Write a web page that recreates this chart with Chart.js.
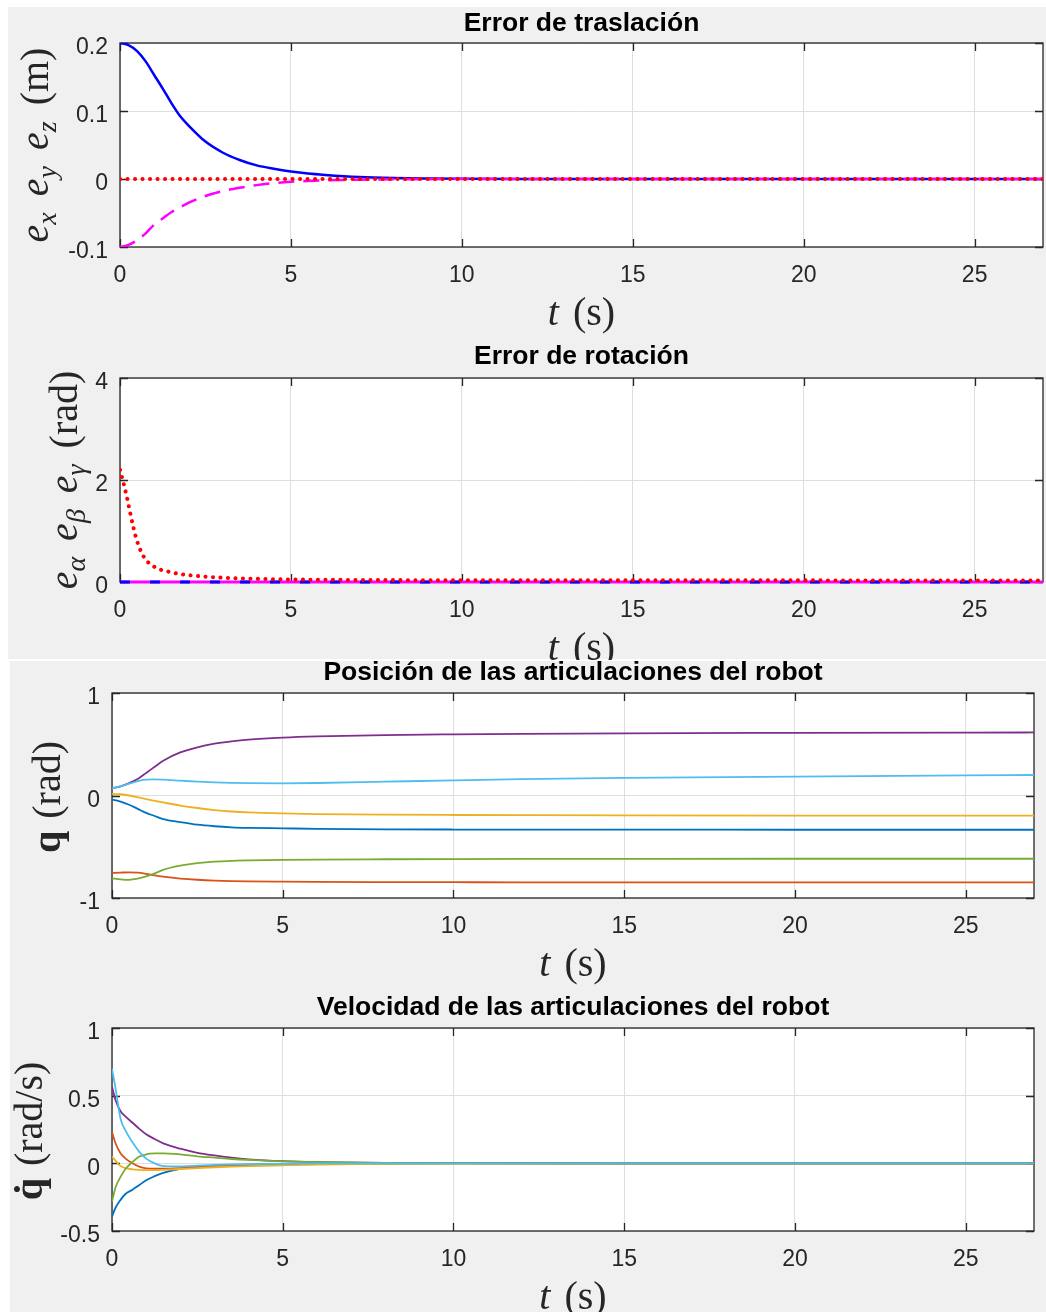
<!DOCTYPE html>
<html><head><meta charset="utf-8">
<script src="https://cdn.jsdelivr.net/npm/chart.js@4.4.1/dist/chart.umd.min.js"></script>
<style>
html,body{margin:0;padding:0;background:#fff;}
body{width:1046px;height:1312px;position:relative;overflow:hidden;}
.bg{position:absolute;background:#f0f0f0;}
canvas{position:absolute;left:0;}
</style></head><body>
<div class="bg" style="left:8px;top:7px;width:1038px;height:652px"></div>
<div class="bg" style="left:10px;top:661px;width:1036px;height:651px"></div>
<canvas id="c1" width="1046" height="340" style="top:0px"></canvas>
<canvas id="c2" width="1046" height="320" style="top:340px"></canvas>
<canvas id="c3" width="1046" height="350" style="top:640px"></canvas>
<canvas id="c4" width="1046" height="332" style="top:980px"></canvas>
<script>
// ---------- shared ticks ----------
const xTicks = [0, 5, 10, 15, 20, 25];
const yTicksTras = [-0.1, 0, 0.1, 0.2];
const yTicksRot = [0, 2, 4];
const yTicksPos = [-1, 0, 1];
const yTicksVel = [-0.5, 0, 0.5, 1];

// ---------- Error de traslación ----------
const tTras = [0,0.25,0.5,0.75,1,1.25,1.5,1.75,2,2.5,3,3.5,4,4.5,5,5.5,6,7,8,9,10,12,15,20,27];
const ex = [0.200,0.197,0.188,0.173,0.153,0.133,0.112,0.093,0.079,0.055,0.039,0.028,0.020,0.015,0.011,0.008,0.006,0.003,0.0015,0.0008,0.0004,0.0001,0,0,0];
const ey = [-0.100,-0.097,-0.090,-0.080,-0.067,-0.058,-0.049,-0.042,-0.035,-0.025,-0.018,-0.013,-0.009,-0.006,-0.004,-0.003,-0.002,-0.001,-0.0005,-0.0002,0,0,0,0,0];
const tEz = [0, 27];
const ez = [0, 0];

// ---------- Error de rotación ----------
const tRot = [0,0.1,0.2,0.3,0.4,0.5,0.7,1,1.5,2,3,4,5,7,10,15,20,27];
const eGamma = [2.2,1.95,1.67,1.35,1.05,0.80,0.49,0.30,0.19,0.135,0.085,0.062,0.05,0.04,0.035,0.033,0.032,0.03];
const tRotZero = [0, 27];
const eAlpha = [0, 0];
const eBeta = [0, 0];

// ---------- Posición de las articulaciones ----------
const tPos = [0,0.25,0.5,0.75,1,1.25,1.5,2,2.5,3,3.5,4,5,6,8,10,12,15,20,25,27];
const q1 = [-0.04,-0.06,-0.09,-0.13,-0.17,-0.20,-0.23,-0.26,-0.285,-0.30,-0.31,-0.315,-0.32,-0.325,-0.33,-0.332,-0.333,-0.333,-0.334,-0.334,-0.334];
const q2 = [-0.755,-0.752,-0.750,-0.753,-0.765,-0.78,-0.792,-0.81,-0.822,-0.83,-0.835,-0.838,-0.841,-0.843,-0.845,-0.846,-0.847,-0.847,-0.848,-0.848,-0.848];
const q3 = [0.015,0.012,0.0,-0.017,-0.035,-0.052,-0.068,-0.098,-0.122,-0.142,-0.156,-0.165,-0.175,-0.181,-0.187,-0.19,-0.192,-0.194,-0.196,-0.197,-0.197];
const q4 = [0.07,0.09,0.12,0.16,0.22,0.28,0.34,0.42,0.47,0.505,0.528,0.545,0.565,0.577,0.590,0.597,0.602,0.607,0.611,0.614,0.615];
const q5 = [-0.808,-0.818,-0.823,-0.812,-0.79,-0.76,-0.725,-0.685,-0.66,-0.645,-0.637,-0.633,-0.628,-0.625,-0.622,-0.62,-0.619,-0.618,-0.617,-0.617,-0.617];
const q6 = [0.07,0.09,0.115,0.14,0.155,0.158,0.155,0.145,0.135,0.128,0.123,0.12,0.119,0.122,0.135,0.148,0.16,0.172,0.185,0.196,0.2];

// ---------- Velocidad de las articulaciones ----------
const tVel = [0,0.1,0.25,0.4,0.6,0.8,1,1.25,1.5,2,2.5,3,3.5,4,5,6,8,10,15,20,27];
const v1 = [-0.394,-0.33,-0.27,-0.225,-0.195,-0.16,-0.125,-0.095,-0.07,-0.04,-0.03,-0.024,-0.02,-0.016,-0.01,-0.006,-0.002,0,0,0,0];
const v2 = [0.234,0.15,0.075,0.035,0.0,-0.025,-0.037,-0.04,-0.04,-0.035,-0.026,-0.019,-0.014,-0.01,-0.006,-0.003,-0.001,0,0,0,0];
const v3 = [0.05,0.02,-0.02,-0.035,-0.044,-0.048,-0.05,-0.05,-0.048,-0.042,-0.035,-0.029,-0.024,-0.02,-0.014,-0.009,-0.004,-0.002,0,0,0];
const v4 = [0.566,0.47,0.385,0.345,0.30,0.255,0.215,0.18,0.148,0.108,0.078,0.058,0.042,0.03,0.016,0.009,0.003,0.001,0,0,0];
const v5 = [-0.284,-0.18,-0.10,-0.04,0.01,0.05,0.066,0.073,0.074,0.066,0.052,0.042,0.032,0.025,0.015,0.009,0.003,0.001,0,0,0];
const v6 = [0.70,0.56,0.33,0.24,0.155,0.085,0.035,0.0,-0.02,-0.022,-0.017,-0.012,-0.008,-0.006,-0.003,-0.001,0,0,0,0,0];

const matlabColors = ['#0072BD','#D95319','#EDB120','#7E2F8E','#77AC30','#4DBEEE'];

// ---------- helpers ----------
const SANS = '"Liberation Sans", Arial, Helvetica, sans-serif';
const SERIF = '"Liberation Serif", "Times New Roman", serif';
const tickColor = '#262626';
const gridColor = '#dedede';
const pts = (t, v) => t.map((x, i) => ({x: x, y: v[i]}));

function drawRich(ctx, segs, size, cx, cy, rotate) {
  ctx.save();
  ctx.translate(cx, cy);
  if (rotate) ctx.rotate(-Math.PI / 2);
  ctx.textBaseline = 'alphabetic';
  ctx.textAlign = 'left';
  ctx.fillStyle = '#262626';
  const fontOf = s => (s.it ? 'italic ' : '') + (s.b ? 'bold ' : '') + Math.round(size * (s.sub ? 0.7 : 1)) + 'px ' + SERIF;
  const w = [];
  let total = 0;
  segs.forEach(s => {
    let ww;
    if (s.gap) ww = s.gap * size;
    else { ctx.font = fontOf(s); ww = ctx.measureText(s.t).width; }
    w.push(ww); total += ww;
  });
  let x = -total / 2;
  segs.forEach((s, i) => {
    if (!s.gap) {
      ctx.font = fontOf(s);
      ctx.fillText(s.t, x, s.sub ? 0.2 * size : 0);
      if (s.dot) {
        ctx.textAlign = 'center';
        ctx.fillText('\u02D9', x + w[i] / 2, 0);
        ctx.textAlign = 'left';
      }
    }
    x += w[i];
  });
  ctx.restore();
}

const matlabAxes = {
  id: 'matlabAxes',
  beforeDraw(chart) {
    const {ctx, chartArea: a} = chart;
    ctx.save();
    ctx.fillStyle = '#ffffff';
    ctx.fillRect(a.left, a.top, a.right - a.left, a.bottom - a.top);
    ctx.restore();
  },
  beforeDatasetsDraw(chart) {
    const {ctx, chartArea: a, scales: {x, y}} = chart;
    ctx.save();
    ctx.strokeStyle = '#262626';
    ctx.lineWidth = 1.3;
    ctx.strokeRect(a.left, a.top, a.right - a.left, a.bottom - a.top);
    const L = 8;
    ctx.beginPath();
    x.ticks.forEach(t => {
      const px = Math.round(x.getPixelForValue(t.value)) + 0.5;
      ctx.moveTo(px, a.bottom); ctx.lineTo(px, a.bottom - L);
      ctx.moveTo(px, a.top); ctx.lineTo(px, a.top + L);
    });
    y.ticks.forEach(t => {
      const py = Math.round(y.getPixelForValue(t.value)) + 0.5;
      ctx.moveTo(a.left, py); ctx.lineTo(a.left + L, py);
      ctx.moveTo(a.right, py); ctx.lineTo(a.right - L, py);
    });
    ctx.stroke();
    ctx.restore();
  },
  afterDraw(chart, args, opts) {
    const {ctx, chartArea: a} = chart;
    if (opts.xLabel) drawRich(ctx, opts.xLabel, 40, (a.left + a.right) / 2, opts.xBase, false);
    if (opts.yLabel) drawRich(ctx, opts.yLabel, 40, opts.yBase, opts.yCenter, true);
  }
};

const tLabel = [{t: 't', it: 1}, {gap: 0.35}, {t: '(s)'}];

function xScale(h) {
  return {
    type: 'linear', min: 0, max: 27,
    afterBuildTicks: s => { s.ticks = xTicks.map(v => ({value: v})); },
    afterFit: s => { s.height = h; },
    grid: {color: gridColor, lineWidth: 1, drawTicks: false},
    border: {display: false},
    ticks: {autoSkip: false, maxRotation: 0, minRotation: 0, padding: 15, color: tickColor,
      font: {family: SANS, size: 23}, callback: v => String(v)}
  };
}
function yScale(min, max, arr, w) {
  return {
    type: 'linear', min: min, max: max,
    afterBuildTicks: s => { s.ticks = arr.map(v => ({value: v})); },
    afterFit: s => { s.width = w; },
    grid: {color: gridColor, lineWidth: 1, drawTicks: false},
    border: {display: false},
    ticks: {padding: 12, labelOffset: 5, color: tickColor, font: {family: SANS, size: 23}, callback: v => String(v)}
  };
}
function titleOpt(text, pt, pb) {
  return {display: true, text: text, fullSize: false, color: '#000',
    font: {family: SANS, size: 26.5, weight: 'bold', lineHeight: 1}, padding: {top: pt, bottom: pb}};
}
function baseOpts(o) {
  return {
    responsive: false, animation: false, devicePixelRatio: 1,
    layout: {padding: {left: 0, right: o.right, top: 0, bottom: 0}},
    elements: {point: {radius: 0}, line: {cubicInterpolationMode: 'monotone'}},
    scales: {x: xScale(o.xh), y: yScale(o.ymin, o.ymax, o.yticks, o.yw)},
    plugins: {
      legend: {display: false}, tooltip: {enabled: false},
      title: titleOpt(o.title, o.pt, o.pb),
      matlabAxes: {xLabel: tLabel, xBase: o.xBase, yLabel: o.yLabel, yBase: o.yBase, yCenter: o.yCenter}
    }
  };
}

// ---------- Chart 1 ----------
new Chart(document.getElementById('c1'), {
  type: 'line',
  data: {datasets: [
    {label: 'e_x', data: pts(tTras, ex), borderColor: '#0000ff', borderWidth: 2.5, order: 3},
    {label: 'e_y', data: pts(tTras, ey), borderColor: '#ff00ff', borderWidth: 2.5, borderDash: [16, 9], order: 2},
    {label: 'e_z', data: pts(tEz, ez), borderColor: '#ff0000', borderWidth: 4, borderDash: [0.1, 7.4], borderCapStyle: 'round', order: 1}
  ]},
  options: baseOpts({right: 3, xh: 93, ymin: -0.1, ymax: 0.2, yticks: yTicksTras, yw: 120,
    title: 'Error de traslación', pt: 10, pb: 6.5, xBase: 325, yBase: 48, yCenter: 145,
    yLabel: [{t: 'e', it: 1}, {t: 'x', it: 1, sub: 1}, {gap: 0.4}, {t: 'e', it: 1}, {t: 'y', it: 1, sub: 1}, {gap: 0.4},
             {t: 'e', it: 1}, {t: 'z', it: 1, sub: 1}, {gap: 0.4}, {t: '(m)'}]}),
  plugins: [matlabAxes]
});

// ---------- Chart 2 ----------
new Chart(document.getElementById('c2'), {
  type: 'line',
  data: {datasets: [
    {label: 'e_alpha', data: pts(tRotZero, eAlpha), borderColor: '#ff00ff', borderWidth: 3, order: 3, clip: false},
    {label: 'e_beta', data: pts(tRotZero, eBeta), borderColor: '#0000ff', borderWidth: 3, borderDash: [10, 20], order: 2, clip: false},
    {label: 'e_gamma', data: pts(tRot, eGamma), borderColor: '#ff0000', borderWidth: 4, borderDash: [0.1, 7.4], borderCapStyle: 'round', order: 1}
  ]},
  options: baseOpts({right: 3, xh: 78, ymin: 0, ymax: 4, yticks: yTicksRot, yw: 120,
    title: 'Error de rotación', pt: 3.5, pb: 8, xBase: 320, yBase: 77, yCenter: 140,
    yLabel: [{t: 'e', it: 1}, {t: 'α', it: 1, sub: 1}, {gap: 0.4}, {t: 'e', it: 1}, {t: 'β', it: 1, sub: 1}, {gap: 0.4},
             {t: 'e', it: 1}, {t: 'γ', it: 1, sub: 1}, {gap: 0.4}, {t: '(rad)'}]}),
  plugins: [matlabAxes]
});

// ---------- Chart 3 ----------
const qSeries = [q1, q2, q3, q4, q5, q6];
new Chart(document.getElementById('c3'), {
  type: 'line',
  data: {datasets: qSeries.map((s, i) => ({label: 'q' + (i + 1), data: pts(tPos, s), borderColor: matlabColors[i], borderWidth: 1.8, order: 6 - i}))},
  options: baseOpts({right: 12, xh: 92, ymin: -1, ymax: 1, yticks: yTicksPos, yw: 112,
    title: 'Posición de las articulaciones del robot', pt: 19.5, pb: 7, xBase: 336, yBase: 60, yCenter: 157,
    yLabel: [{t: 'q', b: 1}, {gap: 0.3}, {t: '(rad)'}]}),
  plugins: [matlabAxes]
});

// ---------- Chart 4 ----------
const vSeries = [v1, v2, v3, v4, v5, v6];
new Chart(document.getElementById('c4'), {
  type: 'line',
  data: {datasets: vSeries.map((s, i) => ({label: 'qd' + (i + 1), data: pts(tVel, s), borderColor: matlabColors[i], borderWidth: 1.8, order: 6 - i}))},
  options: baseOpts({right: 12, xh: 81, ymin: -0.5, ymax: 1, yticks: yTicksVel, yw: 112,
    title: 'Velocidad de las articulaciones del robot', pt: 14.5, pb: 7, xBase: 329, yBase: 42, yCenter: 151,
    yLabel: [{t: 'q', b: 1, dot: 1}, {gap: 0.3}, {t: '(rad/s)'}]}),
  plugins: [matlabAxes]
});
</script>
</body></html>
